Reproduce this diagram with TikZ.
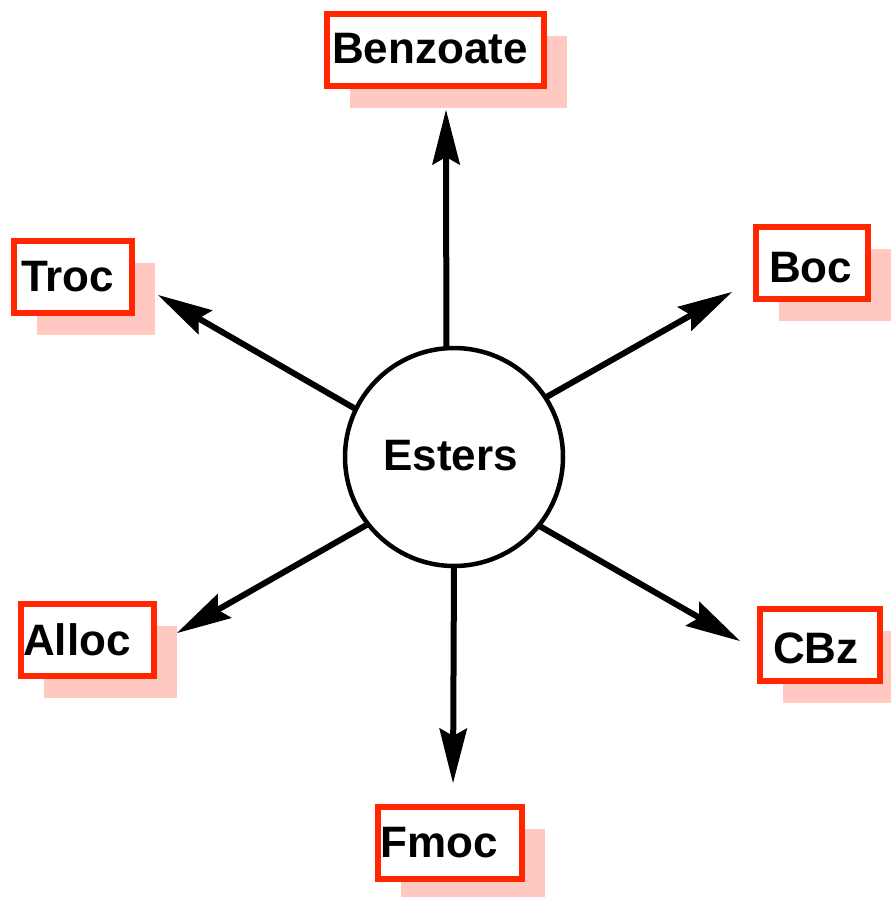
\documentclass[tikz,border=0pt]{standalone}
\usepackage{fontspec}
\setmainfont{Liberation Sans}
\usetikzlibrary{arrows.meta,shadows}
\definecolor{boxred}{RGB}{255,38,0}
\definecolor{shadowpink}{RGB}{255,200,192}

\begin{document}
\begin{tikzpicture}[x=1pt,y=-1pt,
  tagtext/.style={anchor=base west,inner sep=0pt,font=\fontsize{44}{50}\selectfont\bfseries},
  tagbox/.style={draw=boxred,line width=6pt,fill=white,inner sep=0pt,minimum height=72pt,
    drop shadow={shadow xshift=23pt,shadow yshift=-22pt,fill=shadowpink,opacity=1}},
  hub/.style={circle,draw=black,line width=4.5pt,minimum size=218pt,inner sep=0pt,outer sep=0pt,fill=white},
  arr/.style={line width=6pt,-{Stealth[length=55pt,width=28pt,inset=8pt,line width=1pt]}}]
\useasboundingbox (0,0) rectangle (891,897);

% central hub
\node[hub] (esters) at (454,457) {};
\node[tagtext] (esterstext) at (383,470) {Esters};

% protecting-group boxes with offset shadows
\node[tagbox,minimum width=217pt] (benzoate) at (435.5,49.5) {};
\node[tagtext] (benzoatetext) at (332,63) {Benzoate};

\node[tagbox,minimum width=118pt] (troc) at (73,277) {};
\node[tagtext] (troctext) at (21,291) {Troc};

\node[tagbox,minimum width=112pt] (boc) at (812,263) {};
\node[tagtext] (boctext) at (769,282) {Boc};

\node[tagbox,minimum width=133pt] (alloc) at (87.5,640) {};
\node[tagtext] (alloctext) at (23,655) {Alloc};

\node[tagbox,minimum width=120pt] (cbz) at (820,645) {};
\node[tagtext] (cbztext) at (773,663) {CBz};

\node[tagbox,minimum width=144pt] (fmoc) at (450,842.5) {};
\node[tagtext] (fmoctext) at (380,857) {Fmoc};

% arrow tips just short of each box
\coordinate (tipbenzoate) at (446,110);
\coordinate (tiptroc) at (158,295);
\coordinate (tipboc) at (732,292);
\coordinate (tipalloc) at (177,633);
\coordinate (tipcbz) at (740,641);
\coordinate (tipfmoc) at (453,783);

\draw[arr] (esters.94) -- (tipbenzoate);
\draw[arr] (esters.154) -- (tiptroc);
\draw[arr] (esters.33) -- (tipboc);
\draw[arr] (esters.218) -- (tipalloc);
\draw[arr] (esters.321) -- (tipcbz);
\draw[arr] (esters.270.5) -- (tipfmoc);
\end{tikzpicture}
\end{document}
